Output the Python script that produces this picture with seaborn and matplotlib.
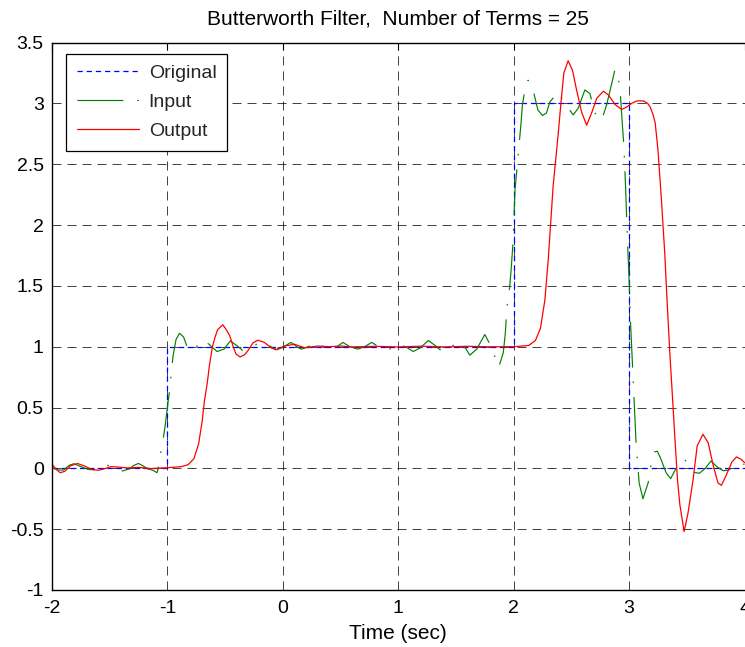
import numpy as np
import pandas as pd
import matplotlib
matplotlib.use("Agg")
import matplotlib.pyplot as plt
import seaborn as sns

# ---------------- data ----------------
t_orig = [-2, -1, -1, 2, 2, 3, 3, 4]
y_orig = [0, 0, 1, 1, 3, 3, 0, 0]

t_in = [-2.00, -1.95, -1.90, -1.85, -1.81, -1.75, -1.69, -1.62, -1.57, -1.52,
        -1.45, -1.39, -1.33, -1.29, -1.25, -1.21, -1.17, -1.13, -1.09, -1.08,
        -1.064, -1.05, -1.035, -1.02, -1.00, -0.98, -0.965, -0.95, -0.925, -0.895,
        -0.86, -0.83, -0.80, -0.76, -0.72, -0.695, -0.64, -0.57, -0.51, -0.455,
        -0.40, -0.35, -0.28, -0.22, -0.145, -0.09, -0.05, 0.00, 0.07, 0.12,
        0.16, 0.22, 0.29, 0.35, 0.41, 0.47, 0.52, 0.58, 0.65, 0.71,
        0.77, 0.83, 0.90, 0.96, 1.01, 1.07, 1.13, 1.19, 1.26, 1.32,
        1.38, 1.44, 1.50, 1.55, 1.62, 1.68, 1.75, 1.81, 1.87, 1.91,
        1.928, 1.942, 1.965, 1.977, 1.994, 2.00, 2.012, 2.03, 2.043, 2.064,
        2.075, 2.096, 2.125, 2.168, 2.21, 2.25, 2.284, 2.313, 2.386, 2.443,
        2.516, 2.559, 2.617, 2.661, 2.704, 2.762, 2.806, 2.849, 2.878, 2.899,
        2.922, 2.94, 2.955, 2.97, 2.985, 3.00, 3.01, 3.035, 3.06, 3.07,
        3.087, 3.12, 3.165, 3.19, 3.22, 3.245, 3.27, 3.32, 3.36, 3.41,
        3.47, 3.53, 3.57, 3.61, 3.66, 3.71, 3.76, 3.815, 3.86, 3.92,
        3.96, 4.00]
y_in = [0.005, -0.014, -0.014, 0.025, 0.038, 0.014, -0.008, -0.014, 0.0, 0.025,
        0.005, -0.022, -0.005, 0.025, 0.04, 0.02, -0.005, -0.014, -0.036, 0.0,
        0.088, 0.18, 0.25, 0.35, 0.50, 0.65, 0.80, 0.93, 1.06, 1.11,
        1.08, 1.00, 0.965, 0.98, 1.04, 1.055, 1.02, 0.96, 0.98, 1.047,
        1.01, 0.97, 0.985, 1.025, 1.03, 0.99, 0.975, 0.995, 1.035, 1.0,
        0.98, 1.0, 1.035, 1.0, 0.975, 1.0, 1.035, 1.0, 0.98, 1.0,
        1.035, 1.0, 0.975, 0.99, 1.02, 0.995, 0.96, 0.99, 1.05, 1.01,
        0.96, 0.98, 1.03, 1.04, 0.93, 0.98, 1.10, 0.99, 0.83, 0.95,
        1.115, 1.33, 1.485, 1.62, 1.85, 2.00, 2.29, 2.48, 2.62, 2.84,
        2.98, 3.11, 3.19, 3.11, 2.945, 2.90, 2.92, 3.01, 3.095, 3.0,
        2.905, 2.96, 3.11, 3.08, 2.92, 2.86, 2.99, 3.16, 3.28, 3.25,
        3.11, 2.85, 2.65, 2.30, 1.90, 1.55, 1.25, 0.73, 0.22, 0.097,
        -0.12, -0.25, -0.12, 0.03, 0.135, 0.14, 0.09, -0.035, -0.085, 0.005,
        0.08, 0.03, -0.035, -0.04, 0.0, 0.06, 0.014, -0.02, -0.015, 0.02,
        0.04, 0.033]

t_out = [-2.00, -1.97, -1.93, -1.89, -1.84, -1.78, -1.72, -1.66, -1.60, -1.55,
         -1.49, -1.42, -1.35, -1.25, -1.14, -1.00, -0.88, -0.82, -0.77, -0.73,
         -0.70, -0.68, -0.655, -0.637, -0.61, -0.59, -0.565, -0.52, -0.49, -0.46,
         -0.43, -0.406, -0.37, -0.33, -0.30, -0.26, -0.217, -0.16, -0.10, -0.06,
         0.014, 0.10, 0.19, 0.30, 0.40, 0.50, 0.60, 0.80, 1.00, 1.20,
         1.40, 1.60, 1.80, 2.00, 2.06, 2.13, 2.188, 2.232, 2.27, 2.30,
         2.342, 2.386, 2.414, 2.435, 2.472, 2.51, 2.545, 2.588, 2.632, 2.675,
         2.719, 2.777, 2.82, 2.878, 2.936, 2.98, 3.023, 3.067, 3.125, 3.16,
         3.183, 3.21, 3.226, 3.25, 3.28, 3.309, 3.33, 3.353, 3.375, 3.40,
         3.42, 3.44, 3.477, 3.51, 3.555, 3.59, 3.64, 3.685, 3.73, 3.77,
         3.80, 3.84, 3.89, 3.93, 3.97, 4.00]
y_out = [0.033, 0.0, -0.036, -0.025, 0.02, 0.04, 0.02, -0.008, -0.016, -0.005,
         0.014, 0.01, 0.003, 0.008, -0.002, 0.005, 0.014, 0.03, 0.08, 0.20,
         0.38, 0.55, 0.70, 0.84, 1.00, 1.07, 1.14, 1.18, 1.14, 1.09,
         1.00, 0.94, 0.915, 0.935, 0.97, 1.03, 1.053, 1.035, 0.99, 0.975,
         1.005, 1.02, 0.99, 1.005, 1.0, 1.005, 0.998, 1.003, 0.998, 1.004,
         0.998, 1.003, 0.999, 1.0, 1.004, 1.01, 1.05, 1.15, 1.38, 1.72,
         2.32, 2.75, 3.05, 3.25, 3.35, 3.27, 3.11, 2.93, 2.82, 2.92,
         3.04, 3.10, 3.07, 2.99, 2.95, 2.97, 3.0, 3.02, 3.02, 3.0,
         2.97, 2.90, 2.84, 2.62, 2.21, 1.77, 1.36, 0.95, 0.60, 0.20,
         -0.10, -0.30, -0.52, -0.37, -0.09, 0.185, 0.28, 0.21, 0.02, -0.12,
         -0.14, -0.06, 0.05, 0.094, 0.075, 0.047]

series_labels = ["Original", "Input", "Output"]
x_ticks = [-2, -1, 0, 1, 2, 3, 4]
y_ticks = [-1, -0.5, 0, 0.5, 1, 1.5, 2, 2.5, 3, 3.5]
y_tick_labels = ["-1", "-0.5", "0", "0.5", "1", "1.5", "2", "2.5", "3", "3.5"]
x_tick_labels = ["-2", "-1", "0", "1", "2", "3", "4"]
title_text = "Butterworth Filter,  Number of Terms = 25"
x_label = "Time (sec)"

# ---------------- style ----------------
sns.set_theme(style="white")
plt.rcParams["font.family"] = ["Liberation Sans", "DejaVu Sans"]
plt.rcParams["axes.unicode_minus"] = False
plt.rcParams["lines.scale_dashes"] = False

W, H = 745, 647
fig = plt.figure(figsize=(W / 100, H / 100), dpi=100)
ax = fig.add_axes([52 / W, 1 - 590 / H, (744.5 - 52) / W, (590 - 42.5) / H])

sns.lineplot(x=t_orig, y=y_orig, ax=ax, sort=False, estimator=None,
             color="#0000ff", linewidth=0.9, linestyle=(0, (3.8, 2.8)),
             label=series_labels[0])
sns.lineplot(x=t_in, y=y_in, ax=ax, sort=False, estimator=None,
             color="#008000", linewidth=0.85, linestyle=(0, (33, 10, 1.2, 10)),
             label=series_labels[1])
sns.lineplot(x=t_out, y=y_out, ax=ax, sort=False, estimator=None,
             color="#ff0000", linewidth=0.9, linestyle="-",
             label=series_labels[2])

ax.set_xlim(-2, 4)
ax.set_ylim(-1, 3.5)
ax.set_xticks(x_ticks)
ax.set_xticklabels(x_tick_labels)
ax.set_yticks(y_ticks)
ax.set_yticklabels(y_tick_labels)

ax.grid(True, color="#000000", linestyle=(0, (6.5, 4.3)), linewidth=0.7, alpha=0.75)
ax.set_axisbelow(True)

for side in ["left", "bottom", "top"]:
    ax.spines[side].set_color("black")
    ax.spines[side].set_linewidth(1.0)
ax.spines["right"].set_visible(False)

ax.tick_params(axis="both", which="both", direction="in", length=5, width=0.8,
               top=True, right=False, labelsize=14, colors="black", pad=6)
ax.tick_params(axis="x", pad=7)

ax.set_xlabel(x_label, fontsize=15, labelpad=5, color="black")
ax.set_ylabel("")
ax.set_title(title_text, fontsize=15, pad=13, color="black")

leg = ax.legend(loc="upper left", bbox_to_anchor=(66 / W, 1 - 54 / H),
                bbox_transform=fig.transFigure, borderaxespad=0,
                fontsize=14, frameon=True, fancybox=False, shadow=False,
                framealpha=1, edgecolor="black", handlelength=3.2,
                handletextpad=0.5, labelspacing=0.58, borderpad=0.55)
leg.get_frame().set_linewidth(0.9)

fig.savefig("out.png", dpi=100)
